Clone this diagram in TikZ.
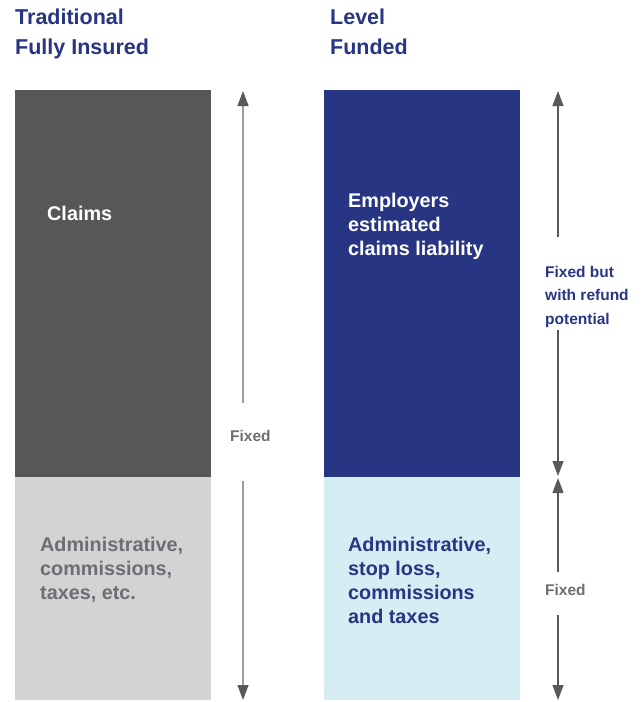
\documentclass[tikz,border=0pt]{standalone}
\usepackage{fontspec}
\setmainfont{Liberation Sans}
\usetikzlibrary{arrows.meta}
\definecolor{navy}{HTML}{283583}
\definecolor{darkbar}{HTML}{555759}
\definecolor{lightbar}{HTML}{D1D3D4}
\definecolor{paleblue}{HTML}{D5EDF3}
\definecolor{txtgray}{HTML}{6D6E71}
\definecolor{arrowgray}{HTML}{58595B}

\begin{document}
\begin{tikzpicture}[x=1pt, y=-1pt,
  bar/.style={inner sep=0, outer sep=0, minimum width=196pt},
  txt/.style={anchor=base west, align=left, inner sep=0, font=\fontsize{19.8}{24}\selectfont\bfseries},
  head/.style={txt, text=navy, font=\fontsize{21.5}{30}\selectfont\bfseries},
  note/.style={txt, font=\fontsize{15.5}{23.5}\selectfont\bfseries},
  span/.style={line width=1.2pt, draw=#1, -{Triangle[length=15pt, width=11pt, color=arrowgray]}},
  span/.default=arrowgray]
  \useasboundingbox (0,0) rectangle (643,702);

  % multi-line nodes sit on the baseline of their last line
  \node[head] (tradHead) at (15,54) {Traditional\\Fully Insured};
  \node[head] (levelHead) at (330,54) {Level\\Funded};

  \node[bar, fill=darkbar, minimum height=387pt] (claimsBar) at (113,283.5) {};
  \node[bar, fill=lightbar, minimum height=223pt] (adminBar) at (113,588.5) {};
  \node[bar, fill=navy, minimum height=387pt] (liabBar) at (422,283.5) {};
  \node[bar, fill=paleblue, minimum height=223pt] (feesBar) at (422,588.5) {};

  \node[txt, text=white] (claimsTxt) at (47,220) {Claims};
  \node[txt, text=txtgray] (adminTxt) at (40,599) {Administrative,\\commissions,\\taxes, etc.};
  \node[txt, text=white] (liabTxt) at (348,255) {Employers\\estimated\\claims liability};
  \node[txt, text=navy] (feesTxt) at (348,623) {Administrative,\\stop loss,\\commissions\\and taxes};

  \node[note, text=txtgray] (fixedL) at (230,441) {Fixed};
  \node[note, text=navy] (refundR) at (545,324) {Fixed but\\with refund\\potential};
  \node[note, text=txtgray] (fixedR) at (545,595) {Fixed};

  \coordinate (lTop) at (243,91);
  \coordinate (lGapA) at (243,403);
  \coordinate (lGapB) at (243,481);
  \coordinate (lBot) at (243,700);
  \coordinate (rTop) at (558,91);
  \coordinate (rGapA) at (558,237);
  \coordinate (rGapB) at (558,330);
  \coordinate (rMidA) at (558,476);
  \coordinate (rMidB) at (558,478);
  \coordinate (rGapC) at (558,572);
  \coordinate (rGapD) at (558,615);
  \coordinate (rBot) at (558,700);

  \draw[span=arrowgray!60] (lGapA) -- (lTop);
  \draw[span=arrowgray!60] (lGapB) -- (lBot);
  \draw[span] (rGapA) -- (rTop);
  \draw[span] (rGapB) -- (rMidA);
  \draw[span] (rGapC) -- (rMidB);
  \draw[span] (rGapD) -- (rBot);
\end{tikzpicture}
\end{document}
